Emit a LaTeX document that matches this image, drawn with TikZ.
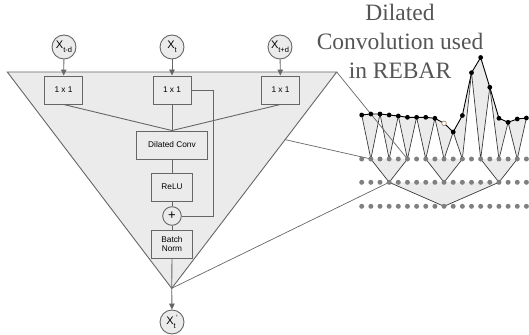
\documentclass[tikz,border=0pt]{standalone}
\usepackage{fontspec}
\setmainfont{Liberation Serif}
\setsansfont{Liberation Sans}
\usetikzlibrary{arrows.meta}
\definecolor{lc}{HTML}{666666}
\definecolor{fc}{HTML}{EBEBEB}
\definecolor{dc}{HTML}{808080}
\definecolor{tc}{HTML}{555555}
\definecolor{vc}{HTML}{3A3A3A}
\definecolor{oc}{HTML}{9A7A5A}
\newcommand{\subtx}[1]{\raisebox{-4pt}{\fontsize{7.5}{7.5}\selectfont #1}}
\begin{document}
\begin{tikzpicture}[x=1pt,y=-1pt,
  box/.style={draw=lc, fill=fc, line width=0.9pt, minimum width=38pt, minimum height=28pt, inner sep=0pt,
    font=\sffamily\fontsize{8.3}{10}\selectfont, align=center},
  io/.style={circle, draw=lc, fill=fc, line width=0.9pt, minimum size=24pt, inner sep=0pt,
    font=\sffamily\fontsize{11}{11}\selectfont},
  conn/.style={draw=lc, line width=0.9pt},
  arr/.style={conn, -{Triangle[length=6pt,width=5.5pt]}},
  zl/.style={draw=lc, line width=0.7pt},
  vl/.style={draw=vc, line width=0.7pt},
  sig/.style={draw=black, line width=0.9pt},
  head/.style={font=\fontsize{23.5}{29}\selectfont, text=tc, anchor=base, inner sep=0pt}]
\useasboundingbox (0,0) rectangle (529,334);

% big triangle
\coordinate (tl) at (7.3,72);
\coordinate (tr) at (336.7,72);
\coordinate (apex) at (171.7,288.3);
\filldraw[fill=fc, draw=lc, line width=0.9pt] (tl) -- (tr) -- (apex) -- cycle;

% nodes
\node[io] (xa) at (64,47) {X\subtx{t-d}};
\node[io] (xb) at (172,47) {X\subtx{t}};
\node[io] (xc) at (280,47) {X\subtx{t+d}};
\node[box] (b1) at (63.5,90) {1 x 1};
\node[box] (b2) at (172,90) {1 x 1};
\node[box] (b3) at (280.5,90) {1 x 1};
\node[box, minimum width=70.6pt] (dcv) at (172,145) {Dilated Conv};
\node[box, minimum width=41pt] (relu) at (172,187) {ReLU};
\node[circle, draw=lc, fill=fc, line width=0.9pt, minimum size=18.6pt, inner sep=0pt,
  font=\sffamily\fontsize{13}{13}\selectfont] (plus) at (172,216) {+};
\node[box, minimum width=41pt] (bn) at (172,244) {Batch\\[-1pt]Norm};
\node[io] (xo) at (172,322) {X\subtx{t}\kern0.3pt\raisebox{3.5pt}{\fontsize{7.5}{7.5}\selectfont '}};
\coordinate (sk) at (213.3,90);

% connectors
\draw[arr] (xa) -- (b1);
\draw[arr] (xb) -- (b2);
\draw[arr] (xc) -- (b3);
\draw[conn] (b1.south) -- (dcv.north);
\draw[conn] (b2.south) -- (dcv.north);
\draw[conn] (b3.south) -- (dcv.north);
\draw[conn] (dcv) -- (relu);
\draw[conn] (relu) -- (plus);
\draw[conn] (plus) -- (bn);
\draw[conn] (b2.east) -- (sk) |- (plus.east);
\draw[conn] (bn.south) -- (apex);
\draw[arr] (apex) -- (xo.north);

% heading
\node[head] (h1) at (400,20.7) {Dilated};
\node[head] (h2) at (400,49.3) {Convolution used};
\node[head] (h3) at (400,78.3) {in REBAR};

% dilated convolution sketch
\foreach \i/\y in {0/115,1/114,2/114,3/115,4/116,5/117.3,6/117.3,7/117.3,8/118.3,9/123.3,
  10/132,11/115.5,12/72.7,13/57.5,14/87.3,15/118.3,16/122.3,17/119,18/118} {
  \coordinate (t\i) at ({361.7+9.15*\i},\y);
  \coordinate (a\i) at ({361.7+9.15*\i},159);
  \coordinate (b\i) at ({361.7+9.15*\i},182.3);
  \coordinate (c\i) at ({361.7+9.15*\i},206.3);
}
\foreach \i in {1,3,...,17} {
  \pgfmathtruncatemacro\p{\i-1}
  \pgfmathtruncatemacro\n{\i+1}
  \fill[fc] (t\p) -- (t\i) -- (t\n) -- (a\i) -- cycle;
  \draw[vl] (t\p) -- (a\i) -- (t\n);
}
\foreach \j in {3,9,15} {
  \pgfmathtruncatemacro\p{\j-2}
  \pgfmathtruncatemacro\n{\j+2}
  \fill[fc] (a\p) -- (b\j) -- (a\n) -- cycle;
  \draw[vl] (a\p) -- (b\j) -- (a\n);
}
\fill[fc] (b3) -- (c9) -- (b15) -- cycle;
\draw[vl] (b3) -- (c9) -- (b15);

% zoom lines
\coordinate (ep) at (285,139.6);
\draw[zl] (tr) -- (a5);
\draw[zl] (ep) -- (a1);
\draw[zl] (apex) -- (b3);

\draw[sig] (t0) \foreach \i in {1,...,18} { -- (t\i) };

\foreach \i in {0,...,18} {
  \fill[dc] (a\i) circle (2.5);
  \fill[dc] (b\i) circle (2.5);
  \fill[dc] (c\i) circle (2.5);
}
\foreach \i in {0,...,8,10,11,...,18} {
  \fill[black] (t\i) circle (2.4);
}
\filldraw[fill=white, draw=oc, line width=0.6pt] (t9) circle (2.3);
\end{tikzpicture}
\end{document}
